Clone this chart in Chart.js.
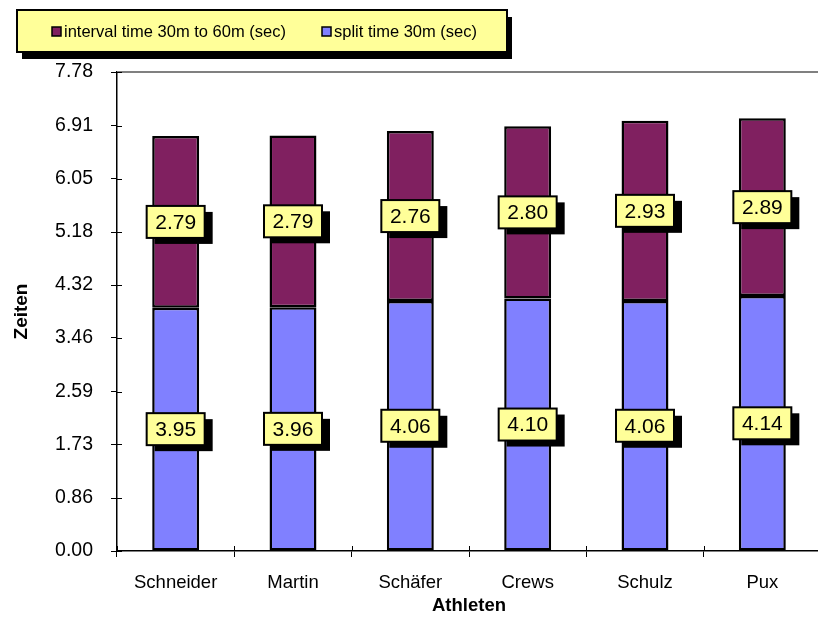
<!DOCTYPE html>
<html>
<head>
<meta charset="utf-8">
<script src="https://cdn.jsdelivr.net/npm/chart.js@4/dist/chart.umd.min.js"></script>
<style>
  body { margin: 0; overflow: hidden; background: #fff; }
</style>
</head>
<body>
<canvas id="chart" width="822" height="623"></canvas>
<script>
var athletes = ['Schneider', 'Martin', 'Schäfer', 'Crews', 'Schulz', 'Pux'];
var split30 = [3.95, 3.96, 4.06, 4.10, 4.06, 4.14];
var interval3060 = [2.79, 2.79, 2.76, 2.80, 2.93, 2.89];
var yTicks = [0.00, 0.86, 1.73, 2.59, 3.46, 4.32, 5.18, 6.05, 6.91, 7.78];

var FONT = '"Liberation Sans", Arial, sans-serif';

// yellow boxes with a black shadow, centred on each segment
var valueBoxes = {
	id: 'valueBoxes',
	afterDatasetsDraw: function(chart) {
		var ctx = chart.ctx;
		ctx.save();
		chart.data.datasets.forEach(function(ds, i) {
			chart.getDatasetMeta(i).data.forEach(function(bar, j) {
				var x = bar.x, y = (bar.y + bar.base) / 2;
				var w = 58, h = 32;
				ctx.fillStyle = '#000';
				ctx.fillRect(x - w / 2 + 8, y - h / 2 + 6, w, h);
				ctx.fillStyle = '#FFFF99';
				ctx.fillRect(x - w / 2, y - h / 2, w, h);
				ctx.lineWidth = 2;
				ctx.strokeStyle = '#000';
				ctx.strokeRect(x - w / 2, y - h / 2, w, h);
				ctx.fillStyle = '#000';
				ctx.font = '21px ' + FONT;
				ctx.textAlign = 'center';
				ctx.textBaseline = 'middle';
				ctx.fillText(ds.data[j].toFixed(2), x, y + 1);
			});
		});
		ctx.restore();
	}
};

// top border line, tick stubs inside the plot, and the boxed legend
var frame = {
	id: 'frame',
	afterDraw: function(chart) {
		var ctx = chart.ctx, a = chart.chartArea;
		ctx.save();
		ctx.strokeStyle = '#808080';
		ctx.lineWidth = 2;
		ctx.beginPath();
		ctx.moveTo(a.left, a.top);
		ctx.lineTo(a.right, a.top);
		ctx.stroke();

		ctx.strokeStyle = '#000';
		ctx.lineWidth = 1;
		ctx.beginPath();
		chart.scales.y.ticks.forEach(function(t) {
			var py = Math.round(chart.scales.y.getPixelForValue(t.value)) + 0.5;
			ctx.moveTo(a.left, py);
			ctx.lineTo(a.left + 5, py);
		});
		for (var i = 0; i <= athletes.length; i++) {
			var px = Math.round(a.left + i * (a.right - a.left) / athletes.length) + 0.5;
			ctx.moveTo(px, a.bottom);
			ctx.lineTo(px, a.bottom - 5);
		}
		ctx.stroke();

		// legend
		ctx.fillStyle = '#000';
		ctx.fillRect(22, 17, 490, 42);
		ctx.fillStyle = '#FFFF99';
		ctx.fillRect(17, 10, 490, 42);
		ctx.lineWidth = 2;
		ctx.strokeRect(17, 10, 490, 42);
		var items = [chart.data.datasets[1], chart.data.datasets[0]];
		var xPos = [52, 322];
		ctx.font = '16.5px ' + FONT;
		ctx.textBaseline = 'middle';
		ctx.textAlign = 'left';
		items.forEach(function(ds, k) {
			ctx.fillStyle = ds.backgroundColor;
			ctx.fillRect(xPos[k], 27, 9, 9);
			ctx.lineWidth = 1.5;
			ctx.strokeStyle = '#000';
			ctx.strokeRect(xPos[k], 27, 9, 9);
			ctx.fillStyle = '#000';
			ctx.fillText(ds.label, xPos[k] + 12, 32);
		});
		ctx.restore();
	}
};

new Chart(document.getElementById('chart'), {
	type: 'bar',
	data: {
		labels: athletes,
		datasets: [{
			label: 'split time 30m (sec)',
			data: split30,
			backgroundColor: '#8080FF',
			borderColor: '#000',
			borderWidth: 2.5,
			borderSkipped: false
		}, {
			label: 'interval time 30m to 60m (sec)',
			data: interval3060,
			backgroundColor: '#802060',
			borderColor: '#000',
			borderWidth: 2.5,
			borderSkipped: false
		}]
	},
	options: {
		responsive: false,
		animation: false,
		layout: { padding: { top: 72, right: 1, left: 0, bottom: 0 } },
		datasets: { bar: { barPercentage: 0.4, categoryPercentage: 1 } },
		plugins: { legend: { display: false }, tooltip: { enabled: false } },
		scales: {
			x: {
				stacked: true,
				afterFit: function(s) { s.height = 72; },
				grid: { drawOnChartArea: false, tickLength: 6, color: '#000', offset: true },
				border: { color: '#000', width: 1.5 },
				ticks: { color: '#000', font: { family: FONT, size: 18.5 }, padding: 15, maxRotation: 0 },
				title: { display: true, text: 'Athleten', color: '#000', font: { family: FONT, size: 18.5, weight: 'bold' }, padding: { top: 0, bottom: 6 } }
			},
			y: {
				stacked: true,
				min: 0,
				max: 7.78,
				afterFit: function(s) { s.width = 117; },
				afterBuildTicks: function(s) { s.ticks = yTicks.map(function(v) { return { value: v }; }); },
				grid: { drawOnChartArea: false, tickLength: 6, color: '#000' },
				border: { color: '#000', width: 1.5 },
				ticks: {
					color: '#000', font: { family: FONT, size: 19.5 }, padding: 18,
					callback: function(v) { return Number(v).toFixed(2); }
				},
				title: { display: true, text: 'Zeiten', color: '#000', font: { family: FONT, size: 19, weight: 'bold' }, padding: { top: 10, bottom: 0 } }
			}
		}
	},
	plugins: [valueBoxes, frame]
});
</script>
</body>
</html>
